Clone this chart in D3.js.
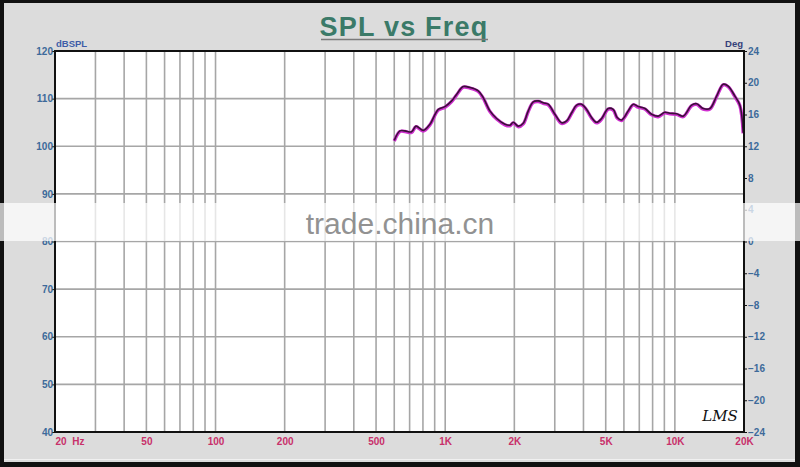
<!DOCTYPE html>
<html>
<head>
<meta charset="utf-8">
<script src="https://cdn.jsdelivr.net/npm/d3@7"></script>
<style>
html,body{margin:0;padding:0;background:#000;}
svg{display:block;}
</style>
</head>
<body>
<svg id="c" width="800" height="467"></svg>
<script>
// ---- data ----
const freqs = [600,635,668,714,746,802,858,933,998,1067,1122,1199,1282,1393,1464,1566,1675,1820,1914,1978,2080,2187,2300,2418,2542,2672,2810,3004,3213,3379,3553,3735,3927,4129,4341,4564,4799,5126,5390,5610,5864,6266,6588,6926,7406,7920,8462,9049,9514,10176,10871,11830,12436,13286,14212,15197,16234,17070,18258,19196,19838];
const spl = [101.1,103.1,103.1,102.9,104.1,103.2,104.5,107.6,108.2,109.4,110.8,112.4,112.2,111.5,110.1,107.3,105.7,104.5,104.3,104.9,104.1,104.7,107.3,109.2,109.4,109.0,108.7,106.6,104.8,105.2,106.9,108.5,108.7,107.6,105.9,104.9,105.7,107.8,107.6,105.9,105.4,107.3,108.7,108.2,107.8,106.6,106.2,107.0,106.8,106.7,106.2,108.5,108.8,107.8,107.8,110.4,112.9,112.5,110.4,108.5,102.7];
const xTickVals = [20,50,100,200,500,1000,2000,5000,10000,20000];
const xTickLabels = ["20  Hz","50","100","200","500","1K","2K","5K","10K","20K"];
const xGridVals = [30,40,50,60,70,80,90,100,200,300,400,500,600,700,800,900,1000,2000,3000,4000,5000,6000,7000,8000,9000,10000];
const yLeftTicks = [40,50,60,70,80,90,100,110,120];
const yRightTicks = [-24,-20,-16,-12,-8,-4,0,4,8,12,16,20,24];
const titleText = "SPL vs Freq";

// ---- layout ----
const svg = d3.select("#c");
const L = 55, R = 744, T = 51, B = 432;

// frame
svg.append("rect").attr("x",0).attr("y",0).attr("width",800).attr("height",467).attr("fill","#111");
svg.append("rect").attr("x",4).attr("y",3).attr("width",791).attr("height",459).attr("fill","#dcdcdc");
svg.append("line").attr("x1",4).attr("x2",795).attr("y1",459.5).attr("y2",459.5).attr("stroke","#f0f0f0").attr("stroke-width",1);

const x = d3.scaleLog().domain([20,20000]).range([L,R]);
const y = d3.scaleLinear().domain([40,120]).range([B,T]);
const y2 = d3.scaleLinear().domain([-24,24]).range([B,T]);

// plot background
svg.append("rect").attr("x",L).attr("y",T).attr("width",R-L).attr("height",B-T).attr("fill","#fff");

// grid
const g = svg.append("g");
g.selectAll(".vg").data(xGridVals).enter().append("line")
  .attr("x1",d=>x(d)).attr("x2",d=>x(d)).attr("y1",T).attr("y2",B)
  .attr("stroke","#a6a6a6").attr("stroke-width",1.6);
g.selectAll(".hg").data(yLeftTicks.slice(1,-1)).enter().append("line")
  .attr("x1",L).attr("x2",R).attr("y1",d=>y(d)).attr("y2",d=>y(d))
  .attr("stroke","#a6a6a6").attr("stroke-width",1.6);

// curve
const data = freqs.map((f,i)=>[f,spl[i]]);
const line = d3.line().x(d=>x(d[0])).y(d=>y(d[1])).curve(d3.curveCatmullRom.alpha(0.5));
svg.append("path").datum(data).attr("d",line).attr("fill","none")
  .attr("stroke","#d030d0").attr("stroke-width",3.4).attr("stroke-linejoin","round");
svg.append("path").datum(data).attr("d",line).attr("fill","none")
  .attr("transform","translate(0,-0.6)")
  .attr("stroke","#3a1238").attr("stroke-width",1.6).attr("stroke-linejoin","round");

// plot border
svg.append("rect").attr("x",L).attr("y",T).attr("width",R-L).attr("height",B-T)
  .attr("fill","none").attr("stroke","#111").attr("stroke-width",2);

// axes (D3 axes, styled)
const axL = d3.axisLeft(y).tickValues(yLeftTicks).tickSize(3).tickFormat(d3.format("d"));
const gl = svg.append("g").attr("transform",`translate(${L},0)`).call(axL);
gl.select(".domain").remove();
gl.selectAll("line").attr("stroke","#111");
gl.selectAll("text").attr("fill","#3d6a9a").attr("font-family","Liberation Sans, Arial, sans-serif")
  .attr("font-size",10).attr("font-weight","bold").attr("x",-2);

const axR = d3.axisRight(y2).tickValues(yRightTicks).tickSize(3).tickFormat(d3.format("d"));
const gr = svg.append("g").attr("transform",`translate(${R},0)`).call(axR);
gr.select(".domain").remove();
gr.selectAll("line").attr("stroke","#111");
gr.selectAll("text").attr("fill","#3d6a9a").attr("font-family","Liberation Sans, Arial, sans-serif")
  .attr("font-size",10).attr("font-weight","bold").attr("x",4);

const axB = d3.axisBottom(x).tickValues(xTickVals).tickSize(0).tickFormat((d,i)=>xTickLabels[i]);
const gb = svg.append("g").attr("transform",`translate(0,${B})`).call(axB);
gb.select(".domain").remove();
gb.selectAll("text").attr("fill","#c8306a").attr("font-family","Liberation Sans, Arial, sans-serif")
  .attr("font-size",10).attr("font-weight","bold").attr("y",6)
  .style("white-space","pre")
  .attr("text-anchor",(d,i)=>i===0?"start":"middle");

// unit labels
svg.append("text").attr("x",56).attr("y",47).text("dBSPL")
  .attr("fill","#3d5ca8").attr("font-family","Liberation Sans, Arial, sans-serif").attr("font-size",9.5).attr("font-weight","bold");
svg.append("text").attr("x",743).attr("y",47).attr("text-anchor","end").text("Deg")
  .attr("fill","#34407a").attr("font-family","Liberation Sans, Arial, sans-serif").attr("font-size",9.5).attr("font-weight","bold");

// title
svg.append("text").attr("x",404).attr("y",36).attr("text-anchor","middle").text(titleText)
  .attr("fill","#3b7a68").attr("font-family","Liberation Sans, Arial, sans-serif").attr("font-size",27)
  .attr("font-weight","bold").attr("letter-spacing",1.2);
svg.append("line").attr("x1",321).attr("x2",488).attr("y1",39.5).attr("y2",39.5)
  .attr("stroke","#7a7a7a").attr("stroke-width",1.5);

// LMS mark
svg.append("text").attr("x",720).attr("y",421).attr("text-anchor","middle").text("LMS")
  .attr("fill","#111").attr("font-family","DejaVu Serif, serif").attr("font-style","italic").attr("font-size",15);

// watermark band
svg.append("rect").attr("x",0).attr("y",203).attr("width",800).attr("height",38)
  .attr("fill","#ffffff").attr("opacity",0.72);
svg.append("text").attr("x",400).attr("y",234).attr("text-anchor","middle").text("trade.china.cn")
  .attr("fill","#808080").attr("font-family","Liberation Sans, Arial, sans-serif").attr("font-size",30).attr("opacity",0.85);
</script>
</body>
</html>
